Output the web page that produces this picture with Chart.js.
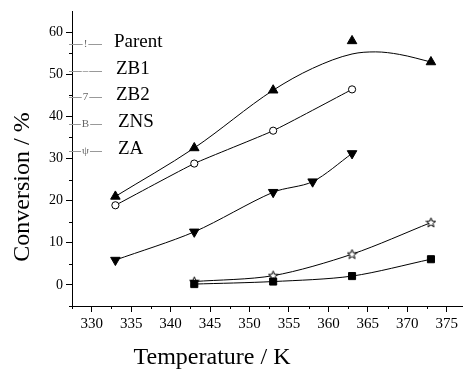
<!DOCTYPE html>
<html>
<head>
<meta charset="utf-8">
<script src="https://cdn.jsdelivr.net/npm/chart.js@4.4.0/dist/chart.umd.min.js"></script>
<style>
html, body { margin: 0; padding: 0; background: #fff; }
</style>
</head>
<body>
<canvas id="chart" width="469" height="369"></canvas>
<script>
// series names and the (garbled) symbols shown in the legend
var seriesNames = ['Parent', 'ZB1', 'ZB2', 'ZNS', 'ZA'];
var legendGlyphs = ['!', '\u2013', '7', 'B', '\u03c8'];

// temperature (K) and conversion (%)
var parentT = [333, 343, 353, 363, 373];
var parentConv = [21.0, 32.5, 46.2, 57.9, 52.9];
// fitted curve drawn through the Parent points
var parentFitT = [333, 343, 353, 358, 363, 366, 369, 373];
var parentFitConv = [21.0, 32.5, 46.2, 51.4, 54.8, 55.3, 54.7, 52.9];

var zb1T = [333, 343, 353, 363];
var zb1Conv = [18.9, 28.8, 36.6, 46.4];

var zb2T = [333, 343, 353, 358, 363];
var zb2Conv = [5.9, 12.6, 22.0, 24.5, 31.2];

var znsT = [343, 353, 363, 373];
var znsConv = [0.2, 0.8, 2.1, 6.1];

var zaT = [343, 353, 363, 373];
var zaConv = [0.8, 2.2, 7.3, 14.8];

// tick labels
var xTicks = [330, 335, 340, 345, 350, 355, 360, 365, 370, 375];
var yTicks = [0, 10, 20, 30, 40, 50, 60];
var xMinor = xTicks.map(function(v) { return v - 2.5; });
var yMinor = yTicks.map(function(v) { return v - 5; });

function pts(xs, ys) {
    return xs.map(function(x, i) { return { x: x, y: ys[i] }; });
}

// open five point star marker
var star = document.createElement('canvas');
star.width = 11; star.height = 11;
(function() {
    var c = star.getContext('2d');
    c.beginPath();
    for (var i = 0; i < 10; i++) {
        var r = i % 2 === 0 ? 5 : 2.1;
        var a = -Math.PI / 2 + i * Math.PI / 5;
        var px = 5.5 + r * Math.cos(a), py = 5.8 + r * Math.sin(a);
        if (i === 0) c.moveTo(px, py); else c.lineTo(px, py);
    }
    c.closePath();
    c.fillStyle = '#fff';
    c.fill();
    c.strokeStyle = '#000';
    c.lineWidth = 1;
    c.stroke();
})();

Chart.defaults.font.family = "'Liberation Serif', 'Times New Roman', serif";
Chart.defaults.color = '#000';

var serif = "'Liberation Serif', 'Times New Roman', serif";

var extras = {
    id: 'extras',
    afterDraw: function(chart) {
        var c = chart.ctx, xs = chart.scales.x, ys = chart.scales.y, a = chart.chartArea;
        c.save();
        // minor ticks
        c.strokeStyle = '#000';
        c.lineWidth = 1;
        c.beginPath();
        xMinor.forEach(function(v) {
            var px = Math.round(xs.getPixelForValue(v)) + 0.5;
            c.moveTo(px, a.bottom);
            c.lineTo(px, a.bottom + 3);
        });
        yMinor.forEach(function(v) {
            var py = Math.round(ys.getPixelForValue(v)) + 0.5;
            c.moveTo(a.left, py);
            c.lineTo(a.left - 3, py);
        });
        c.stroke();

        // axis titles
        c.fillStyle = '#000';
        c.font = '24px ' + serif;
        c.textAlign = 'center';
        c.textBaseline = 'alphabetic';
        c.fillText('Temperature / K', 212, 364);
        c.save();
        c.translate(29, 187);
        c.rotate(-Math.PI / 2);
        c.fillText('Conversion / %', 0, 0);
        c.restore();

        // legend
        for (var i = 0; i < seriesNames.length; i++) {
            var ly = 44 + i * 26.7;
            c.strokeStyle = '#999';
            c.beginPath();
            c.moveTo(69, Math.round(ly) + 0.5);
            c.lineTo(102, Math.round(ly) + 0.5);
            c.stroke();
            c.font = '11px ' + serif;
            c.textAlign = 'center';
            c.textBaseline = 'middle';
            var gw = c.measureText(legendGlyphs[i]).width + 2;
            c.fillStyle = '#fff';
            c.fillRect(85.5 - gw / 2, ly - 4, gw, 8);
            c.fillStyle = '#666';
            c.fillText(legendGlyphs[i], 85.5, ly);
            c.fillStyle = '#000';
            c.font = '19px ' + serif;
            c.textAlign = 'left';
            c.textBaseline = 'alphabetic';
            c.fillText(seriesNames[i], i === 0 ? 114 : 116 + (i > 2 ? 2 : 0), ly + 3);
        }
        c.restore();
    }
};

var lineBase = {
    borderColor: '#000',
    borderWidth: 1,
    pointBorderColor: '#000',
    pointBorderWidth: 1,
    showLine: true,
    tension: 0.3
};

new Chart(document.getElementById('chart'), {
    type: 'scatter',
    data: {
        datasets: [
            Object.assign({}, lineBase, {
                label: 'Parent fit',
                data: pts(parentFitT, parentFitConv),
                pointRadius: 0,
                cubicInterpolationMode: 'monotone'
            }),
            Object.assign({}, lineBase, {
                label: seriesNames[0],
                data: pts(parentT, parentConv),
                showLine: false,
                pointStyle: 'triangle',
                pointRadius: 5.5,
                pointBackgroundColor: '#000'
            }),
            Object.assign({}, lineBase, {
                label: seriesNames[1],
                data: pts(zb1T, zb1Conv),
                tension: 0.15,
                pointStyle: 'circle',
                pointRadius: 3.6,
                pointBackgroundColor: '#fff'
            }),
            Object.assign({}, lineBase, {
                label: seriesNames[2],
                data: pts(zb2T, zb2Conv),
                pointStyle: 'triangle',
                rotation: 180,
                pointRadius: 5.5,
                pointBackgroundColor: '#000'
            }),
            Object.assign({}, lineBase, {
                label: seriesNames[3],
                data: pts(znsT, znsConv),
                pointStyle: 'rect',
                pointRadius: 5,
                pointBackgroundColor: '#000'
            }),
            Object.assign({}, lineBase, {
                label: seriesNames[4],
                data: pts(zaT, zaConv),
                pointStyle: star
            })
        ]
    },
    options: {
        responsive: false,
        animation: false,
        layout: { padding: { top: 11, right: 1, left: 0, bottom: 0 } },
        plugins: {
            legend: { display: false },
            tooltip: { enabled: false }
        },
        scales: {
            x: {
                type: 'linear',
                min: 327.5,
                max: 377,
                afterBuildTicks: function(s) {
                    s.ticks = xTicks.map(function(v) { return { value: v }; });
                },
                afterFit: function(s) {
                    s.height = 63;
                    s.paddingLeft = 0;
                    s.paddingRight = 0;
                },
                border: { display: true, color: '#000', width: 1 },
                grid: {
                    drawOnChartArea: false,
                    drawTicks: true,
                    tickLength: 6,
                    tickColor: '#000'
                },
                ticks: {
                    autoSkip: false,
                    maxRotation: 0,
                    padding: 3,
                    font: { size: 15 },
                    color: '#000'
                }
            },
            y: {
                type: 'linear',
                min: -5,
                max: 65,
                afterBuildTicks: function(s) {
                    s.ticks = yTicks.map(function(v) { return { value: v }; });
                },
                afterFit: function(s) {
                    s.width = 72;
                    s.paddingTop = 0;
                    s.paddingBottom = 0;
                },
                border: { display: true, color: '#000', width: 1 },
                grid: {
                    drawOnChartArea: false,
                    drawTicks: true,
                    tickLength: 6,
                    tickColor: '#000'
                },
                ticks: {
                    autoSkip: false,
                    padding: 3,
                    font: { size: 14 },
                    color: '#000'
                }
            }
        }
    },
    plugins: [extras]
});
</script>
</body>
</html>
